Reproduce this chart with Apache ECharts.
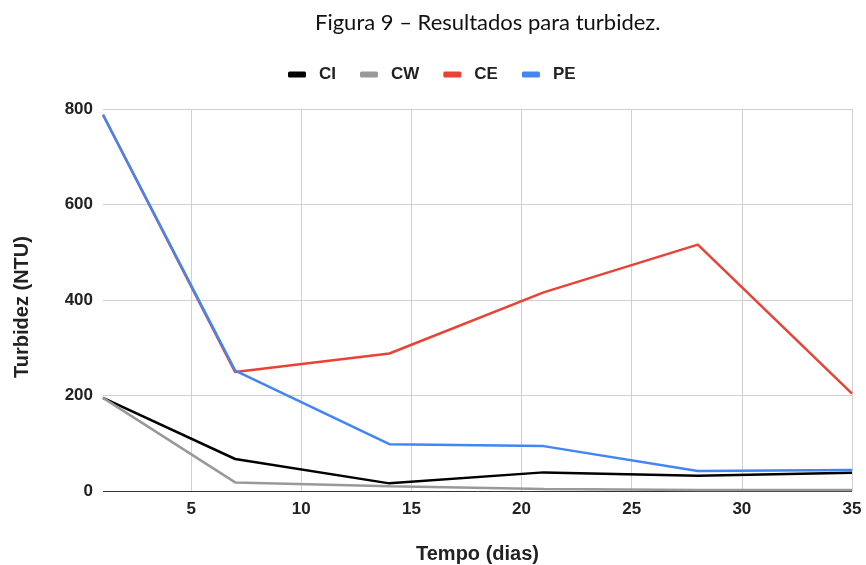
<!DOCTYPE html>
<html>
<head>
<meta charset="utf-8">
<script src="https://cdn.jsdelivr.net/npm/echarts@6/dist/echarts.min.js"></script>
<style>
  html, body { margin: 0; padding: 0; background: #ffffff; }
  #chart { width: 866px; height: 565px; }
</style>
</head>
<body>
<div id="chart"></div>
<script>
// Sampling days and turbidity (NTU) per treatment
const days = [1, 7, 14, 21, 28, 35];
const ciValues = [195, 67, 16, 39, 32, 38];
const cwValues = [195, 18, 10, 4, 2, 2];
const ceValues = [788, 249, 288, 416, 516, 204];
const peValues = [788, 252, 98, 94, 42, 44];
const xTicks = [5, 10, 15, 20, 25, 30, 35];
const yTicks = [0, 200, 400, 600, 800];

const seriesDefs = [
  { name: 'CI', values: ciValues, color: '#000000' },
  { name: 'CW', values: cwValues, color: '#999999' },
  { name: 'CE', values: ceValues, color: '#ea4335' },
  { name: 'PE', values: peValues, color: '#4285f4' }
];

const chart = echarts.init(document.getElementById('chart'), null, { renderer: 'canvas' });

const boldText = { fontFamily: 'Liberation Sans, Arial, sans-serif', fontWeight: 'bold', color: '#222222' };

chart.setOption({
  animation: false,
  backgroundColor: '#ffffff',
  title: {
    text: 'Figura 9 – Resultados para turbidez.',
    left: 310,
    top: 7,
    textStyle: { fontFamily: 'Lato, Carlito, sans-serif', fontWeight: 'normal', fontSize: 22, color: '#111111' }
  },
  legend: {
    left: 283,
    top: 61,
    icon: 'roundRect',
    itemWidth: 18,
    itemHeight: 6,
    itemGap: 24,
    textStyle: Object.assign({ fontSize: 17, padding: [0, 0, 0, 8] }, boldText),
    data: seriesDefs.map(s => s.name)
  },
  grid: { left: 103, right: 14, top: 109, bottom: 74, containLabel: false, outerBoundsMode: 'none' },
  xAxis: {
    type: 'value',
    min: 1,
    max: 35,
    name: 'Tempo (dias)',
    nameLocation: 'middle',
    nameGap: 53,
    nameTextStyle: Object.assign({ fontSize: 20 }, boldText),
    axisLine: { show: false },
    axisTick: { show: false, customValues: xTicks },
    axisLabel: Object.assign({ fontSize: 17, margin: 10, customValues: xTicks }, boldText),
    splitLine: { show: true, lineStyle: { color: '#d0d0d0', width: 1 } }
  },
  yAxis: {
    type: 'value',
    min: 0,
    max: 800,
    interval: 200,
    name: 'Turbidez (NTU)',
    nameLocation: 'middle',
    nameGap: 71,
    nameTextStyle: Object.assign({ fontSize: 20, padding: [0, 14, 0, 0] }, boldText),
    axisLine: { show: false },
    axisTick: { show: false },
    axisLabel: Object.assign({ fontSize: 17, margin: 10 }, boldText),
    splitLine: {
      show: true,
      lineStyle: {
        color: yTicks.map(v => v === 0 ? '#333333' : '#d0d0d0'),
        width: 1
      }
    }
  },
  series: seriesDefs.map(s => ({
    name: s.name,
    type: 'line',
    data: days.map((d, i) => [d, s.values[i]]),
    showSymbol: false,
    symbol: 'none',
    color: s.color,
    lineStyle: { color: s.color, width: 2.5 },
    itemStyle: { color: s.color }
  }))
});
</script>
</body>
</html>
